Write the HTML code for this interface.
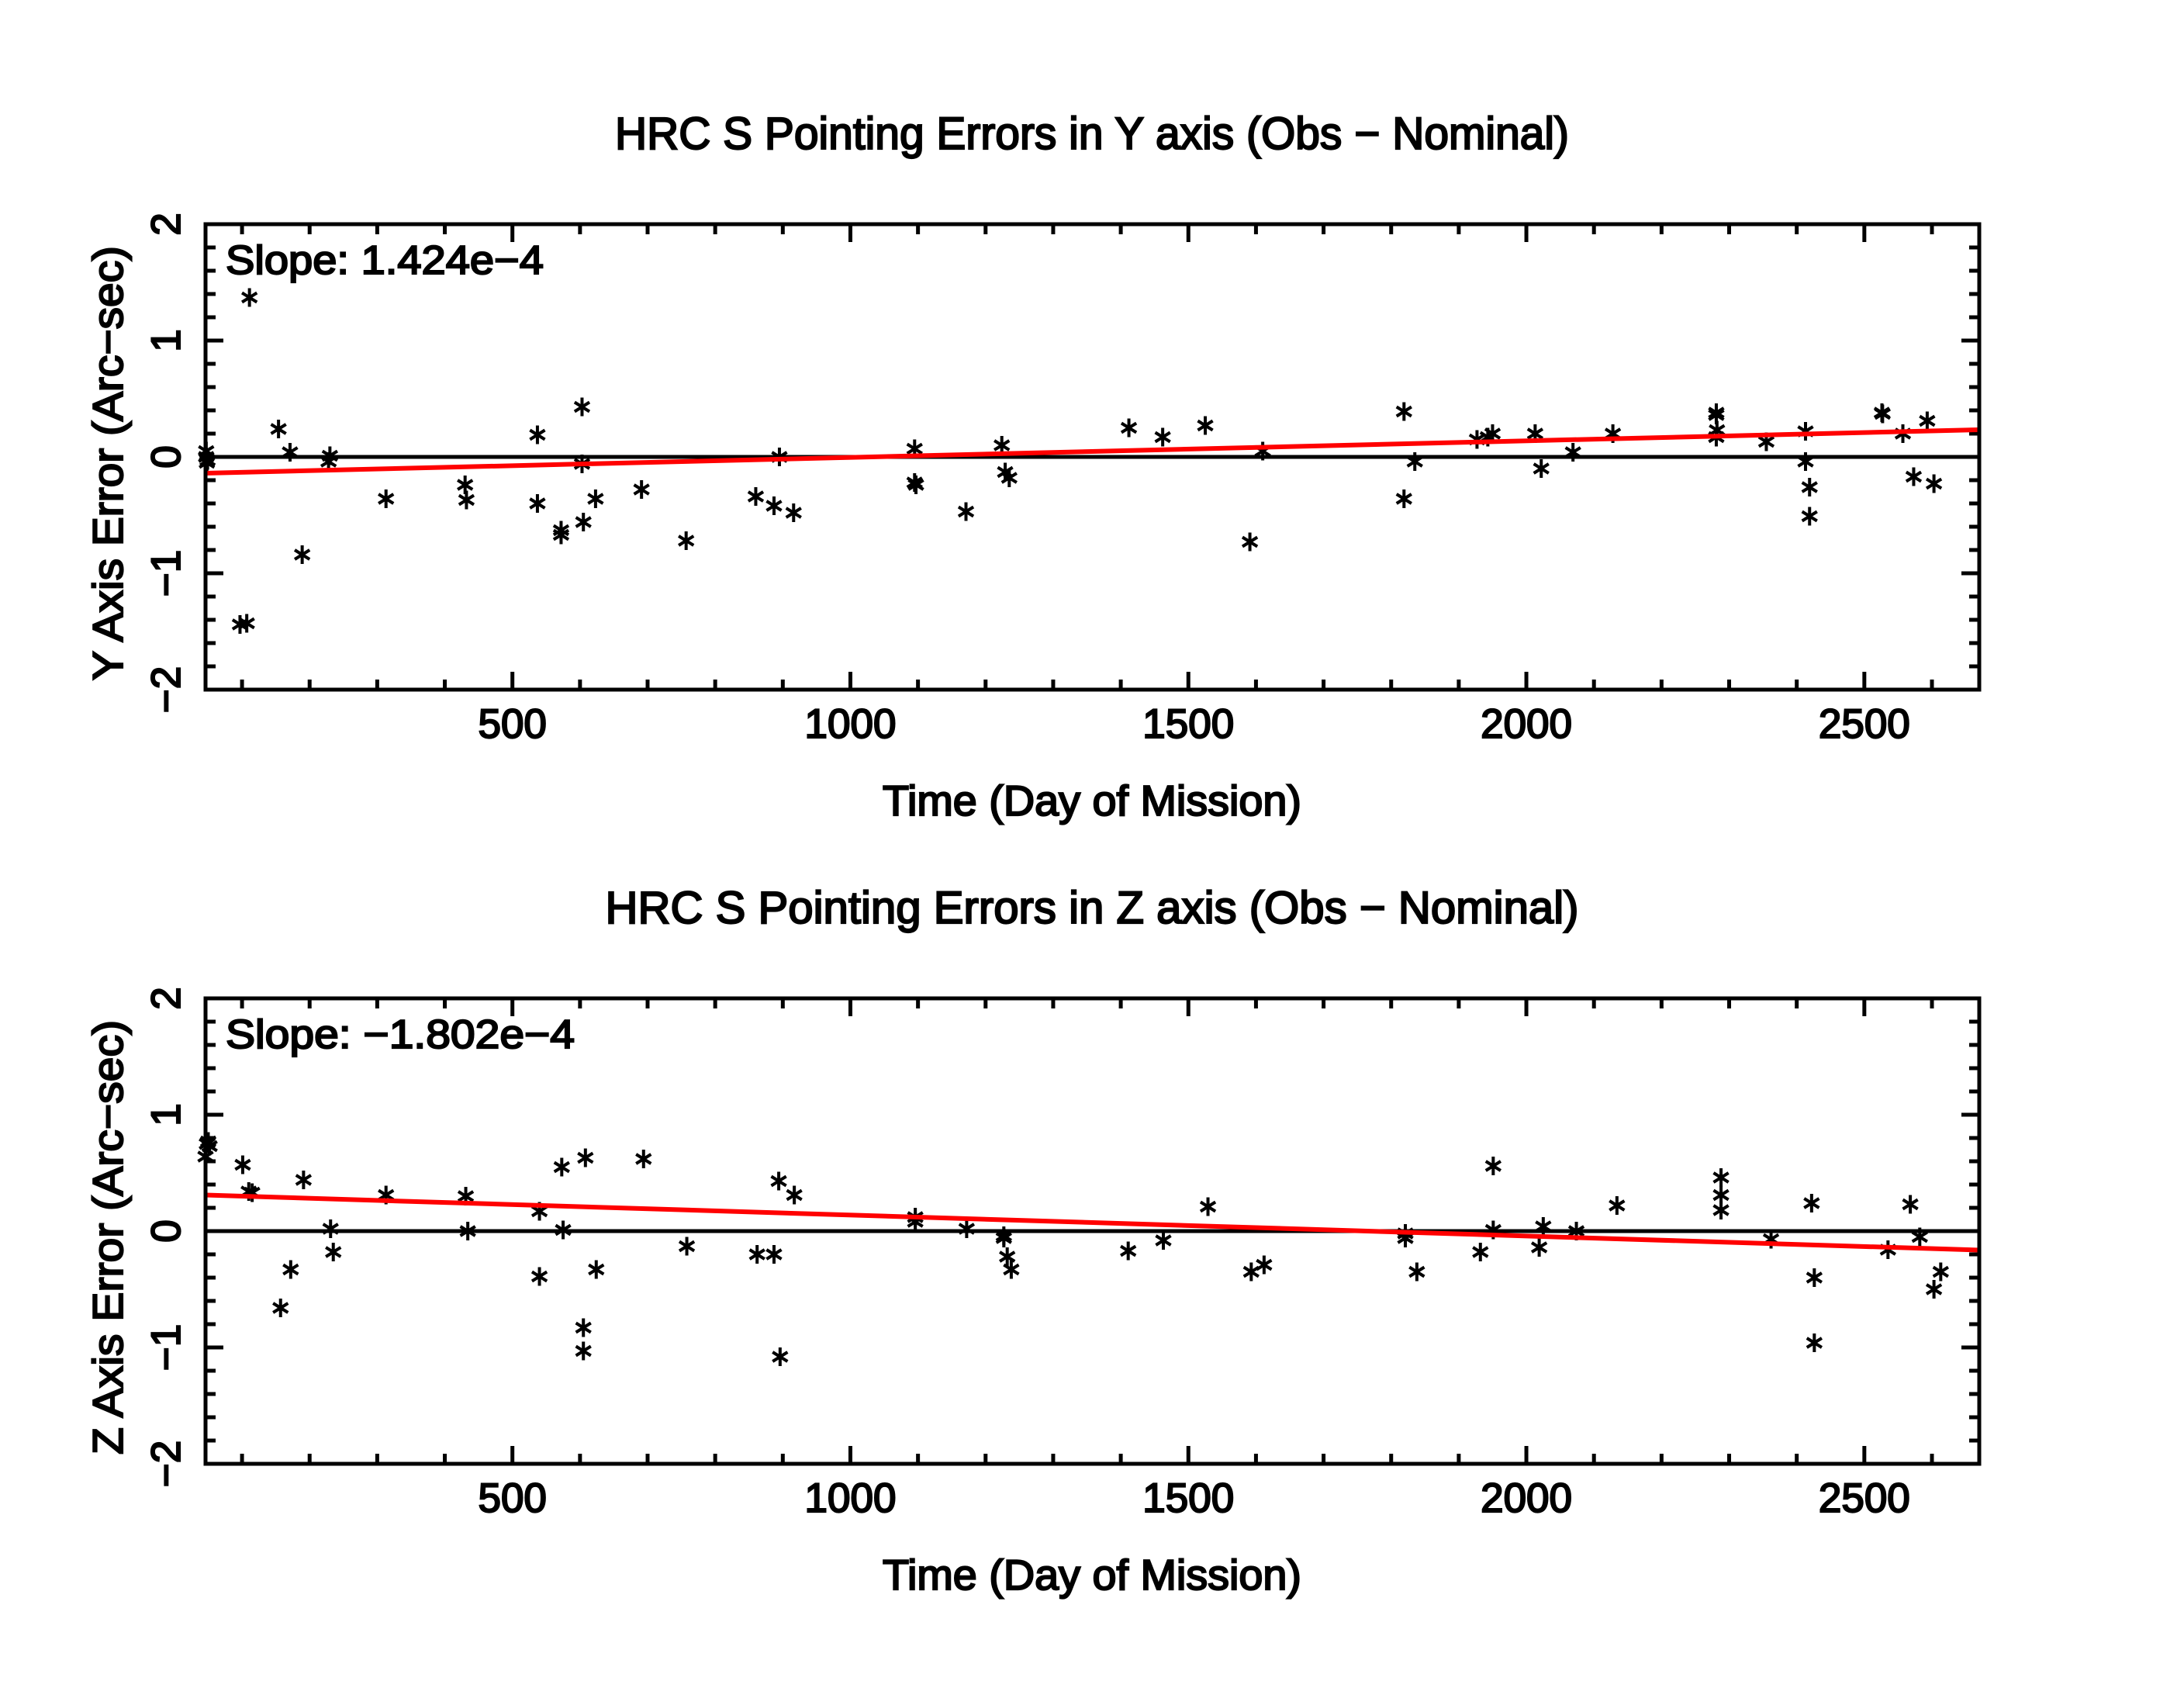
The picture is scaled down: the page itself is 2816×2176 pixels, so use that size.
<!DOCTYPE html>
<html><head><meta charset="utf-8"><style>
html,body{margin:0;padding:0;background:#fff}
svg{display:block}
text{font-family:"Liberation Sans",sans-serif;fill:#000;stroke:#000;stroke-width:2.2px}
</style></head><body>
<svg id="chart" width="2816" height="2176" viewBox="0 0 2816 2176" xmlns="http://www.w3.org/2000/svg">
<rect width="2816" height="2176" fill="#fff"/>
</svg>
<script>
const xTicks = [500, 1000, 1500, 2000, 2500];
const yTicks = [-2, -1, 0, 1, 2];
const yDays = [47,47,48,49,111,97,107,154,171,189,228,230,313,430,432,537,537,572,572,603,603,605,623,691,757,860,887,895,916,1095,1095,1097,1171,1224,1229,1235,1412,1462,1525,1591,1610,1819,1819,1835,1927,1943,1950,2013,2022,2069,2128,2281,2281,2282,2281,2355,2413,2413,2419,2419,2526,2527,2557,2573,2593,2603];
const yErr = [0.05,0,-0.05,-0.03,1.37,-1.44,-1.43,0.24,0.04,-0.84,-0.04,0.01,-0.36,-0.24,-0.37,0.19,-0.4,-0.63,-0.67,0.43,-0.06,-0.56,-0.36,-0.28,-0.72,-0.34,-0.42,0.0,-0.48,0.07,-0.22,-0.24,-0.47,0.1,-0.13,-0.18,0.25,0.17,0.27,-0.73,0.05,0.39,-0.36,-0.04,0.15,0.17,0.2,0.2,-0.1,0.04,0.2,0.38,0.36,0.23,0.17,0.13,0.22,-0.04,-0.26,-0.51,0.38,0.37,0.2,-0.17,0.31,-0.23];
const zDays = [48,50,52,46,101,110,115,191,172,157,231,235,313,431,434,540,540,573,575,608,605,605,624,694,758,862,887,894,917,896,1096,1096,1172,1227,1227,1232,1238,1411,1463,1529,1593,1612,1821,1821,1838,1932,1951,1951,2019,2025,2074,2134,2288,2288,2288,2362,2422,2426,2426,2535,2568,2582,2603,2613];
const zErr = [0.75,0.77,0.73,0.64,0.57,0.34,0.33,0.44,-0.33,-0.66,0.02,-0.18,0.31,0.3,0.0,0.17,-0.39,0.55,0.01,0.63,-0.83,-1.03,-0.33,0.62,-0.13,-0.2,-0.2,0.43,0.31,-1.08,0.12,0.08,0.02,-0.04,-0.06,-0.22,-0.33,-0.17,-0.08,0.21,-0.35,-0.29,-0.02,-0.06,-0.35,-0.18,0.01,0.56,-0.14,0.04,0.0,0.22,0.46,0.31,0.18,-0.07,0.24,-0.4,-0.96,-0.16,0.23,-0.05,-0.5,-0.35];
const ySlope = [1.424e-4], yIntercept = [-0.1466];
const zSlope = [-1.802e-4], zIntercept = [0.318];

const NS = "http://www.w3.org/2000/svg";
const svg = document.getElementById('chart');
const X0 = 46, X1 = 2670, PL = 265, PR = 2552, PH = 600, CX = 1408;
function sx(v){ return PL + (v - X0) / (X1 - X0) * (PR - PL); }
function mk(tag, attrs, parent){ const e = document.createElementNS(NS, tag); for (const k in attrs) e.setAttribute(k, attrs[k]); (parent||svg).appendChild(e); return e; }

function panel(top, title, titleLen, ylabel, slopeTxt, slopeLen, days, vals, slope, icpt, key){
  const g = mk('g', {});
  
  
  const sy = v => top + PH/2 - v * (PH/4);
  const t = mk('text', {x:CX, y:top-97, 'font-size':58, 'text-anchor':'middle', textLength:titleLen, lengthAdjust:'spacingAndGlyphs'}, g);
  t.textContent = title;
  
  
  for (let v = 100; v <= 2600; v += 100){
    const major = v % 500 === 0, L = major ? 23 : 13, x = sx(v);
    const a = mk('line', {x1:x, y1:top, x2:x, y2:top+L, stroke:'#000', 'stroke-width':5}, g);
     
    const b = mk('line', {x1:x, y1:top+PH, x2:x, y2:top+PH-L, stroke:'#000', 'stroke-width':5}, g);
     
  }
  for (let i = -10; i <= 10; i++){
    const v = i/5, major = i % 5 === 0, L = major ? 23 : 13, y = sy(v);
    const a = mk('line', {x1:PL, y1:y, x2:PL+L, y2:y, stroke:'#000', 'stroke-width':5}, g);
     
    const b = mk('line', {x1:PR, y1:y, x2:PR-L, y2:y, stroke:'#000', 'stroke-width':5}, g);
     
  }
  xTicks.forEach(v => {
    const tx = mk('text', {x:sx(v), y:top+PH+62, 'font-size':53, 'text-anchor':'middle'}, g);
    tx.textContent = String(v);
     
  });
  yTicks.forEach(v => {
    const y = sy(v);
    const tx = mk('text', {x:0, y:0, 'font-size':53, 'text-anchor':'middle', transform:`translate(232,${y}) rotate(-90)`}, g);
    tx.textContent = v < 0 ? '\u2212' + Math.abs(v) : String(v);
     
  });
  const xl = mk('text', {x:CX, y:top+PH+162, 'font-size':55, 'text-anchor':'middle', textLength:540, lengthAdjust:'spacingAndGlyphs'}, g);
  xl.textContent = 'Time (Day of Mission)';
   
  const yl = mk('text', {x:0, y:0, 'font-size':55, 'text-anchor':'middle', textLength:560, lengthAdjust:'spacingAndGlyphs', transform:`translate(158,${top+308}) rotate(-90)`}, g);
  yl.textContent = ylabel;
   
  const st = mk('text', {x:291, y:top+64, 'font-size':52, textLength:slopeLen, lengthAdjust:'spacingAndGlyphs'}, g);
  st.textContent = slopeTxt;
   
  const zl = mk('line', {x1:PL, y1:sy(0), x2:PR, y2:sy(0), stroke:'#000', 'stroke-width':5}, g);
   
  days.forEach((d, i) => {
    const cx = sx(d), cy = sy(vals[i]), r = 12;
    const p = mk('path', {d:`M${cx},${cy-r}V${cy+r}M${cx-r*0.8},${cy-r*0.5}L${cx+r*0.8},${cy+r*0.5}M${cx-r*0.8},${cy+r*0.5}L${cx+r*0.8},${cy-r*0.5}`, stroke:'#000', 'stroke-width':4, fill:'none'}, g);
     
  });
  const fl = mk('line', {x1:sx(X0), y1:sy(icpt[0]+slope[0]*X0), x2:sx(X1), y2:sy(icpt[0]+slope[0]*X1), stroke:'#ff0000', 'stroke-width':6}, g);
   
  const fr = mk('rect', {x:PL, y:top, width:PR-PL, height:PH, fill:'none', stroke:'#000', 'stroke-width':5}, g);
   
}
panel(289, 'HRC S Pointing Errors in Y axis (Obs \u2212 Nominal)', 1230, 'Y Axis Error (Arc\u2212sec)', 'Slope:  1.424e\u22124', 410, yDays, yErr, ySlope, yIntercept, 'y-axis');
panel(1287, 'HRC S Pointing Errors in  Z axis (Obs \u2212 Nominal)', 1255, 'Z Axis Error (Arc\u2212sec)', 'Slope:  \u22121.802e\u22124', 450, zDays, zErr, zSlope, zIntercept, 'z-axis');
</script>
</body></html>
